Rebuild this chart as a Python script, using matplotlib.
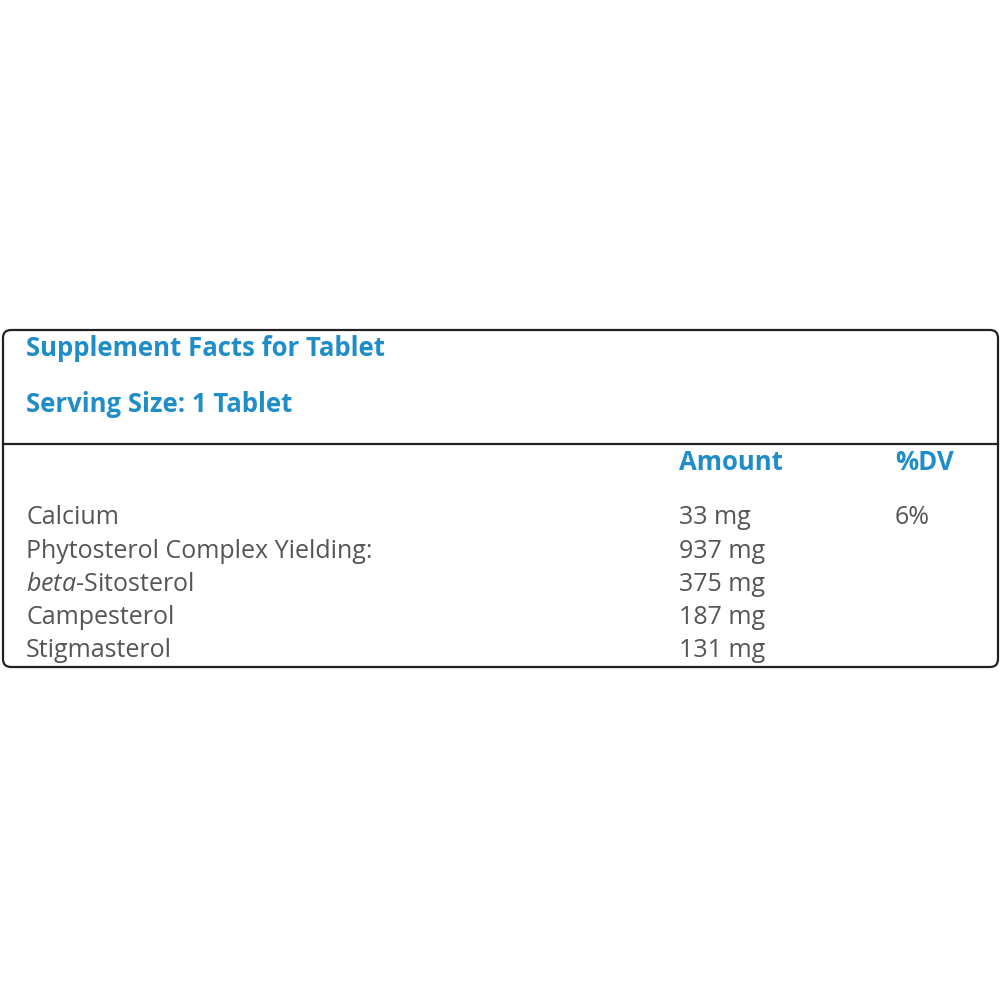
import matplotlib
matplotlib.use("Agg")
import matplotlib.pyplot as plt
from matplotlib.patches import FancyBboxPatch

font = "Open Sans"
plt.rcParams["mathtext.fontset"] = "custom"
plt.rcParams["mathtext.it"] = font + ":italic"
plt.rcParams["mathtext.rm"] = font

title = "Supplement Facts for Tablet"
serving = "Serving Size: 1 Tablet"
col_headers = ["Amount", "%DV"]
nutrients = ["Calcium", "Phytosterol Complex Yielding:", "$\\it{beta}$-Sitosterol", "Campesterol", "Stigmasterol"]
amounts = ["33 mg", "937 mg", "375 mg", "187 mg", "131 mg"]
dvs = ["6%", "", "", "", ""]

blue = "#1f8dc8"
gray = "#555555"

fig = plt.figure(figsize=(10, 10), dpi=100)
ax = fig.add_axes([0, 0, 1, 1])
ax.set_xlim(0, 1000)
ax.set_ylim(1000, 0)
ax.axis("off")

box = FancyBboxPatch((3, 330), 995, 337, boxstyle="round,pad=0,rounding_size=8",
                     fill=False, edgecolor="#222222", linewidth=1.6)
ax.add_patch(box)
ax.plot([3, 998], [444, 444], color="#222222", linewidth=1.6)

hs = 18.5
bs = 18
ax.text(26, 348, title, color=blue, fontsize=hs, fontweight="bold", family=font, va="center")
ax.text(26, 405, serving, color=blue, fontsize=hs, fontweight="bold", family=font, va="center")
ax.text(679, 463, col_headers[0], color=blue, fontsize=hs, fontweight="bold", family=font, va="center")
ax.text(895, 463, col_headers[1], color=blue, fontsize=hs, fontweight="bold", family=font, va="center")

y0, dy = 518, 33.2
for i, (n, a, d) in enumerate(zip(nutrients, amounts, dvs)):
    y = y0 + i * dy
    ax.text(26, y, n, color=gray, fontsize=bs, family=font, va="center")
    ax.text(679, y, a, color=gray, fontsize=bs, family=font, va="center")
    if d:
        ax.text(895, y, d, color=gray, fontsize=bs, family=font, va="center")

fig.savefig("out.png", dpi=100, facecolor="white")
